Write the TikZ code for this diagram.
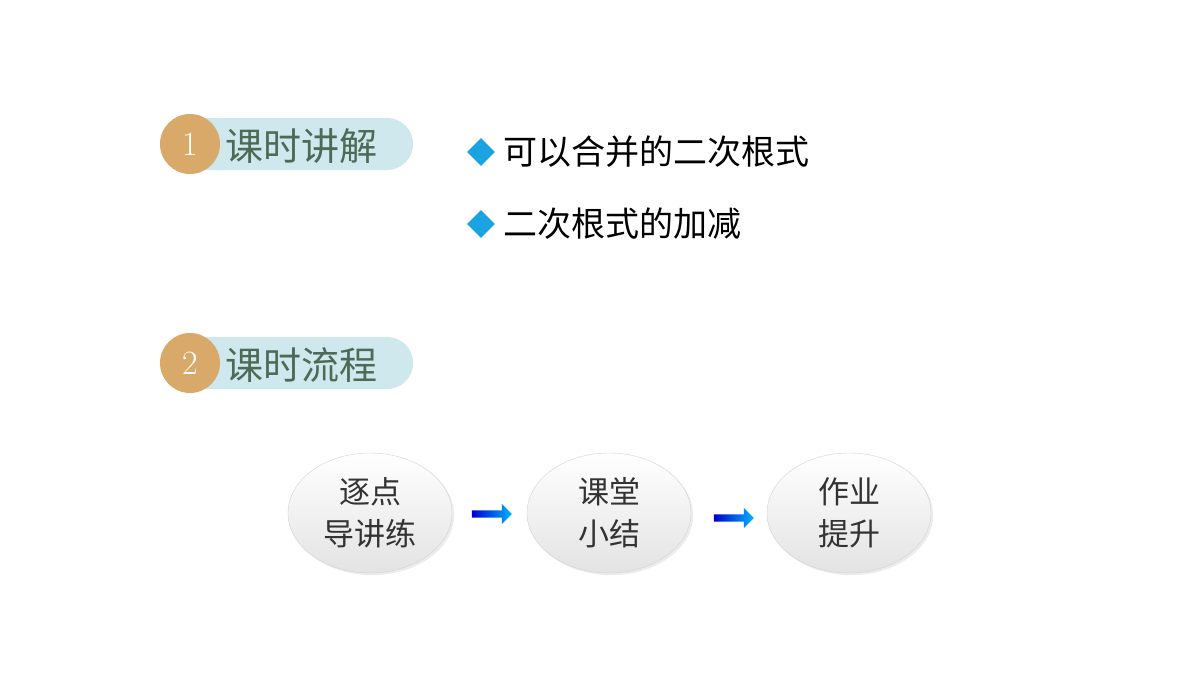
\documentclass[tikz,border=0pt]{standalone}
\usepackage{fontspec}
\newfontfamily\cjk{Noto Sans CJK SC}
\usetikzlibrary{shapes.geometric,shadows}
\definecolor{badge}{HTML}{D9A96A}
\definecolor{pill}{HTML}{CFE8EE}
\definecolor{ttl}{HTML}{4E6A56}
\definecolor{bul}{HTML}{1AA3E0}
\tikzset{
 pillbox/.style={fill=pill,rounded corners=26pt,minimum height=52pt,minimum width=235pt,anchor=west,inner sep=0},
 numc/.style={circle,fill=badge,minimum size=60pt,inner sep=0,text=white,font=\fontsize{34}{34}\selectfont},
 ttltext/.style={text=ttl,font=\cjk\fontsize{38}{38}\selectfont,anchor=west},
 dia/.style={diamond,fill=bul,minimum size=28pt,inner sep=0},
 btext/.style={font=\cjk\fontsize{34}{34}\selectfont,anchor=west},
 ell/.style={ellipse,minimum width=164pt,minimum height=120pt,draw=gray!35,top color=white,bottom color=gray!22,drop shadow={opacity=0.15},align=center,font=\cjk\fontsize{31}{42}\selectfont,text=black!80},
 arr/.style={single arrow,minimum height=40pt,minimum width=20pt,single arrow head extend=4pt,inner sep=2pt,left color=blue!80!black,right color=cyan!70!blue,draw=none}
}
\usetikzlibrary{shapes.arrows}
\begin{document}
\begin{tikzpicture}[x=1pt,y=-1pt]
\useasboundingbox (0,0) rectangle (1200,675);
\node[pillbox] (p1) at (178,144) {};
\node[numc] (n1) at (190,144) {1};
\node[ttltext] (t1) at (222,146) {课时讲解};
\node[pillbox] (p2) at (178,363) {};
\node[numc] (n2) at (190,363) {2};
\node[ttltext] (t2) at (222,365) {课时流程};
\node[dia] (d1) at (481,152) {};
\node[btext] (b1) at (500,152) {可以合并的二次根式};
\node[dia] (d2) at (481,224) {};
\node[btext] (b2) at (500,224) {二次根式的加减};
\node[ell] (e1) at (370,513) {逐点\\导讲练};
\node[ell] (e2) at (609,513) {课堂\\小结};
\node[ell] (e3) at (849,513) {作业\\提升};
\node[arr] (a1) at (490,514) {};
\node[arr] (a2) at (732,518) {};
\end{tikzpicture}
\end{document}
